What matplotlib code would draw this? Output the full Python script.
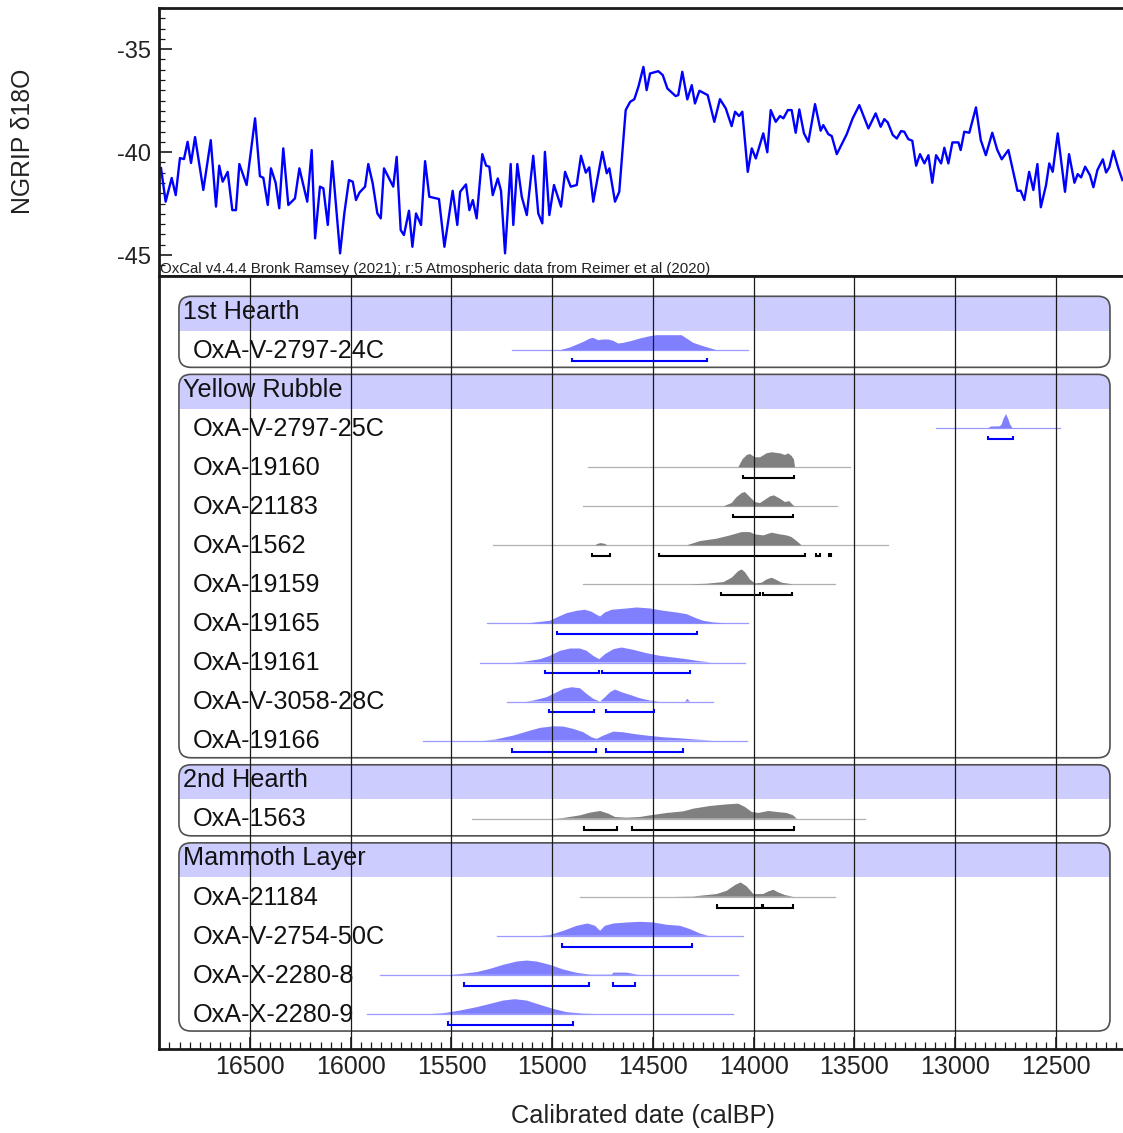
import matplotlib
matplotlib.use("Agg")
import matplotlib.pyplot as plt
from matplotlib.patches import FancyBboxPatch, Rectangle
from matplotlib.ticker import MultipleLocator
from matplotlib.transforms import blended_transform_factory
from matplotlib import font_manager

plt.rcParams['font.family'] = ['Liberation Sans', 'DejaVu Sans']

# ---------------- NGRIP d18O record ----------------
ngrip_age = [16942, 16919, 16889, 16869, 16848, 16828, 16810, 16793, 16773, 16732,
             16695, 16669, 16653, 16636, 16611, 16588, 16570, 16553, 16517, 16475,
             16451, 16434, 16412, 16396, 16373, 16355, 16335, 16310, 16277, 16255,
             16216, 16194, 16177, 16153, 16136, 16114, 16092, 16053, 16032, 16009,
             15990, 15974, 15957, 15929, 15913, 15891, 15868, 15851,
             15835, 15789, 15772, 15752, 15736, 15711, 15694, 15676, 15651, 15631,
             15610, 15562, 15535, 15494, 15471, 15457, 15428, 15411, 15394, 15375,
             15347, 15328, 15312, 15295, 15270, 15254, 15234, 15206, 15193, 15173,
             15151, 15126, 15094, 15069, 15049, 15036, 15014, 14991, 14956, 14936,
             14908, 14878, 14857, 14833, 14816, 14796, 14751, 14729, 14716, 14688,
             14667, 14635, 14613, 14592, 14572, 14547, 14531, 14514, 14473, 14451,
             14428, 14387, 14374, 14354, 14329, 14307, 14291, 14269, 14228, 14195,
             14167, 14138, 14109, 14092, 14072, 14056,
             14029, 14009, 13989, 13952, 13932, 13915, 13890, 13869, 13852, 13830,
             13811, 13791, 13773, 13750, 13728, 13695, 13667, 13654, 13629, 13612,
             13587, 13538, 13508, 13475, 13430, 13394, 13369, 13351, 13334, 13309,
             13289, 13268, 13252, 13232, 13212, 13193, 13174, 13152, 13132, 13113,
             13094, 13069, 13053, 13033, 13013, 12983, 12972, 12954, 12929, 12896,
             12872, 12847, 12815, 12790, 12768, 12735, 12690, 12674, 12656, 12632,
             12611, 12591, 12574, 12548, 12532, 12515, 12490, 12454, 12434, 12407,
             12391, 12374, 12354, 12330, 12313, 12293, 12266, 12250, 12234, 12214,
             12189, 12169]
ngrip_d18o = [-40.78, -42.41, -41.26, -42.09, -40.29, -40.34, -39.5, -40.53, -39.27, -41.84,
              -39.42, -42.65, -40.66, -41.44, -40.96, -42.82, -42.82, -40.58, -41.6, -38.36,
              -41.17, -41.25, -42.57, -40.79, -41.49, -42.73, -39.82, -42.57, -42.25, -40.79,
              -42.41, -39.9, -44.19, -41.68, -41.76, -43.54, -40.44, -44.92, -42.98, -41.36,
              -41.44, -42.33, -41.97, -41.68, -40.58, -41.52, -42.98, -43.22,
              -40.79, -41.68, -40.23, -43.79, -44.03, -42.85, -44.6, -42.98, -43.54, -40.44,
              -42.17, -42.28, -44.6, -41.88, -43.54, -41.93, -41.57, -42.82, -42.33, -43.22,
              -40.1, -40.66, -40.71, -42.09, -41.28, -41.88, -44.92, -40.58, -43.54, -40.58,
              -42.17, -43.06, -40.18, -42.98, -43.46, -39.99, -43.06, -41.6, -42.65, -40.96,
              -41.68, -41.6, -40.18, -41.0, -40.74, -42.41, -39.99, -41.03, -40.79, -42.41,
              -41.93, -37.96, -37.56, -37.43, -36.83, -35.86, -36.99, -36.18, -36.07, -36.26,
              -36.91, -37.28, -37.23, -36.1, -37.44, -36.75, -37.64, -37.02, -37.23, -38.53,
              -37.43, -37.88, -38.74, -38.04, -38.25, -38.04,
              -40.96, -39.82, -40.31, -39.09, -40.01, -37.96, -38.53, -38.25, -38.36, -37.96,
              -37.96, -39.06, -37.93, -39.09, -39.5, -37.67, -38.96, -38.69, -39.13, -39.22,
              -40.1, -39.14, -38.36, -37.72, -38.85, -38.12, -38.77, -38.4, -38.56, -39.17,
              -39.34, -38.98, -39.01, -39.37, -39.45, -40.66, -40.1, -40.55, -40.15, -41.49,
              -40.15, -40.55, -39.79, -40.55, -39.53, -39.53, -39.9, -39.01, -39.06, -37.83,
              -39.42, -40.15, -39.06, -39.9, -40.35, -39.9, -41.88, -41.88, -42.33, -40.96,
              -41.84, -40.58, -42.68, -41.6, -40.55, -40.96, -39.09, -41.93, -40.1, -41.49,
              -41.07, -41.23, -40.71, -41.12, -41.71, -40.87, -40.35, -40.99, -40.74, -39.94,
              -40.79, -41.36]

# ---------------- Groups / samples ----------------
groups = ["1st Hearth", "Yellow Rubble", "2nd Hearth", "Mammoth Layer"]
group_samples = [
    ["OxA-V-2797-24C"],
    ["OxA-V-2797-25C", "OxA-19160", "OxA-21183", "OxA-1562", "OxA-19159",
     "OxA-19165", "OxA-19161", "OxA-V-3058-28C", "OxA-19166"],
    ["OxA-1563"],
    ["OxA-21184", "OxA-V-2754-50C", "OxA-X-2280-8", "OxA-X-2280-9"],
]
grey_samples = ["OxA-19160", "OxA-21183", "OxA-1562", "OxA-19159", "OxA-1563", "OxA-21184"]

# ---------------- Probability distributions (calBP, relative probability) ----------------
s24c_yr = [14961, 14911, 14845, 14812, 14796, 14771, 14746, 14721, 14696, 14672, 14647, 14605,
           14564, 14514, 14481, 14357, 14332, 14299, 14250, 14183]
s24c_p = [0, 2.7, 8.3, 11.7, 12.3, 10, 10.7, 10.7, 9.3, 6.7, 7.3, 9.3, 11.7, 14, 15, 15, 11.7, 7.3, 4, 0]
s24c_span = [15201, 14026]
s24c_hpd = [(14903, 14230)]

s25c_yr = [12835, 12823, 12777, 12768, 12760, 12747, 12735, 12727, 12714]
s25c_p = [0, 1.7, 2, 4, 9, 14.3, 9, 4, 0]
s25c_span = [13094, 12479]
s25c_hpd = [(12835, 12710)]

s19160_yr = [14076, 14055, 14034, 14018, 13993, 13968, 13935, 13910, 13869, 13844, 13828, 13811, 13800, 13794]
s19160_p = [0, 8, 12.3, 13.3, 10, 10, 14, 15, 14, 12.3, 14, 11.3, 8, 0]
s19160_span = [14820, 13521]
s19160_hpd = [(14054, 13798)]

s21183_yr = [14150, 14109, 14084, 14059, 14043, 14018, 13993, 13968, 13943, 13918, 13899, 13869,
             13844, 13823, 13803, 13794]
s21183_p = [0, 3.3, 9.3, 13.3, 14.3, 9.3, 4.3, 3.3, 6.7, 10, 11, 7.7, 4.3, 5.3, 1, 0]
s21183_span = [14845, 13587]
s21183_hpd = [(14101, 13806)]

s1562_yr = [14787, 14774, 14759, 14738, 14726, 14332, 14266, 14183, 14117, 14059, 14018, 13993,
            13952, 13910, 13869, 13836, 13811, 13786, 13761]
s1562_p = [0, 1.5, 2.3, 1.5, 0, 0, 4.3, 6.7, 10, 13.3, 13.3, 11, 10, 12.7, 11, 10, 8.3, 4.3, 0]
s1562_span = [15294, 13332]
s1562_hpd = [(14804, 14713), (14468, 13745), (13688, 13670), (13626, 13617)]

s19159_yr = [14324, 14233, 14150, 14109, 14076, 14059, 14043, 14018, 13993, 13960, 13935, 13910,
             13885, 13860, 13836, 13803]
s19159_p = [0, 0.7, 2.3, 6.7, 13.3, 15, 12.3, 5, 1, 1.7, 5, 6.7, 4.3, 1.7, 1, 0]
s19159_span = [14845, 13596]
s19159_hpd = [(14162, 13968), (13952, 13808)]

s19165_yr = [15126, 15011, 14977, 14928, 14878, 14837, 14804, 14779, 14762, 14738, 14704, 14630,
             14580, 14514, 14448, 14382, 14332, 14282, 14250, 14200, 14133]
s19165_p = [0, 2.7, 6, 10.3, 12.7, 13.7, 11.7, 8.7, 7, 11, 13.7, 15, 16, 15, 12.7, 11, 9.3, 5, 2.7, 1, 0]
s19165_span = [15322, 14026]
s19165_hpd = [(14975, 14282)]

s19161_yr = [15200, 15143, 15060, 15011, 14961, 14911, 14862, 14829, 14796, 14766, 14738, 14696,
             14655, 14597, 14531, 14465, 14399, 14332, 14282, 14208]
s19161_p = [0, 0.7, 3.3, 6.7, 11.7, 14, 14, 11.7, 6.7, 3.3, 8.3, 13.3, 15, 12.7, 9.3, 6.7, 5, 3.3, 1.7, 0]
s19161_span = [15358, 14043]
s19161_hpd = [(15036, 14766), (14754, 14316)]

s28c_yr = [15130, 15094, 15028, 14977, 14944, 14903, 14862, 14829, 14796, 14762, 14738, 14713,
           14688, 14655, 14614, 14564, 14514, 14465, 14340, 14329, 14316]
s28c_p = [0, 1, 4.3, 9.3, 12.7, 14.3, 13.3, 7.7, 2.7, 0, 4.3, 9.3, 12, 9.3, 6.7, 3.3, 1, 0, 0, 2.7, 0]
s28c_span = [15226, 14200]
s28c_hpd = [(15016, 14792), (14734, 14493)]

s19166_yr = [15340, 15284, 15193, 15126, 15060, 14994, 14944, 14895, 14845, 14804, 14779, 14746,
             14696, 14647, 14597, 14531, 14448, 14365, 14282, 14200]
s19166_p = [0, 1, 5, 9, 12.7, 14.3, 14, 11.7, 8.3, 3.3, 1.7, 5, 9, 8.3, 6.7, 5, 3.3, 2.3, 1, 0]
s19166_span = [15640, 14034]
s19166_hpd = [(15201, 14782), (14734, 14349)]

s1563_yr = [14990, 14944, 14862, 14812, 14762, 14721, 14688, 14630, 14564, 14514, 14431, 14349,
            14299, 14216, 14133, 14076, 14043, 14009, 13976, 13927, 13885, 13836, 13803, 13786]
s1563_p = [0, 0.7, 3.3, 6, 7.7, 5, 1.7, 1, 1.7, 3.3, 5.7, 7.3, 10, 12.7, 14.3, 15, 11.7, 6.7,
           5.7, 7.7, 6.7, 5.7, 3.3, 0]
s1563_span = [15398, 13447]
s1563_hpd = [(14840, 14680), (14602, 13798)]

s21184_yr = [14400, 14299, 14183, 14133, 14092, 14064, 14034, 14001, 13952, 13927, 13902, 13877, 13844, 13803]
s21184_p = [0, 0.3, 2.7, 6, 11.7, 14.3, 10.3, 2.7, 2.7, 5.3, 7, 4.3, 1.7, 0]
s21184_span = [14862, 13596]
s21184_hpd = [(14183, 13960), (13955, 13803)]

s50c_yr = [15060, 15011, 14944, 14878, 14825, 14787, 14762, 14738, 14696, 14630, 14564, 14498,
           14431, 14365, 14316, 14266, 14225]
s50c_p = [0, 0.7, 5, 10, 12.3, 10, 5, 10, 12.3, 13.3, 14, 13.3, 11, 10, 6.7, 2.3, 0]
s50c_span = [15276, 14051]
s50c_hpd = [(14953, 14307)]

s2280_8_yr = [15500, 15449, 15375, 15308, 15243, 15176, 15126, 15077, 15011, 14944, 14878, 14812,
              14704, 14696, 14630, 14580, 14560]
s2280_8_p = [0, 1, 2.7, 6, 10, 13.3, 14.3, 13.3, 10, 5.3, 2, 0.3, 0.3, 2.2, 2.2, 0.3, 0]
s2280_8_span = [15855, 14077]
s2280_8_hpd = [(15438, 14818), (14699, 14589)]

s2280_9_yr = [15600, 15540, 15458, 15375, 15308, 15243, 15185, 15126, 15060, 14994, 14928, 14845, 14780]
s2280_9_p = [0, 0.7, 3.3, 6.7, 10, 13.3, 14.7, 13.3, 9, 5, 1.7, 0.3, 0]
s2280_9_span = [15921, 14101]
s2280_9_hpd = [(15519, 14898)]

dist_table = {
    "OxA-V-2797-24C": (s24c_yr, s24c_p, s24c_span, s24c_hpd),
    "OxA-V-2797-25C": (s25c_yr, s25c_p, s25c_span, s25c_hpd),
    "OxA-19160": (s19160_yr, s19160_p, s19160_span, s19160_hpd),
    "OxA-21183": (s21183_yr, s21183_p, s21183_span, s21183_hpd),
    "OxA-1562": (s1562_yr, s1562_p, s1562_span, s1562_hpd),
    "OxA-19159": (s19159_yr, s19159_p, s19159_span, s19159_hpd),
    "OxA-19165": (s19165_yr, s19165_p, s19165_span, s19165_hpd),
    "OxA-19161": (s19161_yr, s19161_p, s19161_span, s19161_hpd),
    "OxA-V-3058-28C": (s28c_yr, s28c_p, s28c_span, s28c_hpd),
    "OxA-19166": (s19166_yr, s19166_p, s19166_span, s19166_hpd),
    "OxA-1563": (s1563_yr, s1563_p, s1563_span, s1563_hpd),
    "OxA-21184": (s21184_yr, s21184_p, s21184_span, s21184_hpd),
    "OxA-V-2754-50C": (s50c_yr, s50c_p, s50c_span, s50c_hpd),
    "OxA-X-2280-8": (s2280_8_yr, s2280_8_p, s2280_8_span, s2280_8_hpd),
    "OxA-X-2280-9": (s2280_9_yr, s2280_9_p, s2280_9_span, s2280_9_hpd),
}

x_ticks = [16500, 16000, 15500, 15000, 14500, 14000, 13500, 13000, 12500]
y_ticks_top = [-35, -40, -45]

# ---------------- Figure layout ----------------
W, H = 1123, 1133
fig = plt.figure(figsize=(W / 100, H / 100), dpi=100)


def fx(px):
    return px / W


def fy(py):
    return 1 - py / H


XLIM = (16952, 12166)
ax_top = fig.add_axes([fx(159), fy(276), fx(1123) - fx(159), fy(8) - fy(276)])
ax = fig.add_axes([fx(159), fy(1049), fx(1123) - fx(159), fy(276) - fy(1049)])

spine_col = '#1a1a1a'
for a in (ax_top, ax):
    a.spines['right'].set_visible(False)
    for s in ('left', 'top', 'bottom'):
        a.spines[s].set_linewidth(2.0)
        a.spines[s].set_color(spine_col)

# top panel
ax_top.plot(ngrip_age, ngrip_d18o, color='#0000ff', lw=1.7)
ax_top.set_xlim(XLIM)
ax_top.set_ylim(-46.02, -33.0)
ax_top.set_xticks([])
ax_top.set_yticks(y_ticks_top)
ax_top.set_yticklabels([str(v) for v in y_ticks_top])
ax_top.yaxis.set_minor_locator(MultipleLocator(0.5))
ax_top.tick_params(axis='y', which='major', direction='in', length=9, width=1.2,
                   labelsize=17, pad=6, color=spine_col, labelcolor='#222222')
ax_top.tick_params(axis='y', which='minor', direction='in', length=4.5, width=0.9, color=spine_col)
ax_top.text(0.001, 0.011,
            "OxCal v4.4.4 Bronk Ramsey (2021); r:5 Atmospheric data from Reimer et al (2020)",
            transform=ax_top.transAxes, fontsize=10.85, va='baseline', ha='left', color='#222222')
fig.text(fx(23), fy(141), "NGRIP \u03b418O", rotation=90, ha='center', va='center',
         fontsize=17.8, color='#222222')

# main panel
ax.set_xlim(XLIM)
ax.set_ylim(18.9, -0.9)
ax.set_yticks([])
ax.set_xticks(x_ticks)
ax.xaxis.set_minor_locator(MultipleLocator(50))

avail = {f.name for f in font_manager.fontManager.ttflist}
if 'Liberation Sans Narrow' in avail:
    tick_fp = dict(family='Liberation Sans Narrow', size=21.5)
else:
    tick_fp = dict(family='Liberation Sans', size=18)
ax.set_xticklabels([str(t) for t in x_ticks], fontdict=tick_fp, color='#222222')
ax.tick_params(axis='x', which='major', direction='in', length=9, width=1.2, pad=4, color=spine_col)
ax.tick_params(axis='x', which='minor', direction='in', length=5, width=0.9, color=spine_col)

fig.text(fx(643), fy(1116), "Calibrated date (calBP)", ha='center', va='center',
         fontsize=18.3, color='#222222')

for t in x_ticks:
    ax.axvline(t, color='#1a1a1a', lw=0.9, zorder=8)

tr = blended_transform_factory(ax.transAxes, ax.transData)
x_data_left = XLIM[0] + (XLIM[1] - XLIM[0]) * 0.0207
x_data_right = XLIM[0] + (XLIM[1] - XLIM[0]) * 0.9865
px_per_year = 964 / (XLIM[0] - XLIM[1])
px_per_row = 773 / (18.9 + 0.9)
aspect = (1 / px_per_row) / (1 / px_per_year)
round_px = 12
prob_scale = 1 / px_per_row  # relative probability units map to pixel heights

BLUE_FILL, BLUE_LINE, BLUE_BR = '#8080ff', '#9a9aff', '#0000ff'
GREY_FILL, GREY_LINE, GREY_BR = '#808080', '#b0b0b0', '#000000'
LABEL_FS = 18.2

row = 0
for g, samples in zip(groups, group_samples):
    header = row
    last = row + len(samples)
    top = header - 0.38
    bot = last + 0.44
    box = FancyBboxPatch((x_data_right, top), x_data_left - x_data_right, bot - top,
                         boxstyle=f"round,pad=0,rounding_size={round_px / px_per_year}",
                         mutation_aspect=aspect, facecolor='white', edgecolor='none', zorder=1)
    ax.add_patch(box)
    band = Rectangle((x_data_right, top), x_data_left - x_data_right, header + 0.5 - top,
                     facecolor='#ccccff', edgecolor='none', zorder=2)
    ax.add_patch(band)
    band.set_clip_path(box)
    edge = FancyBboxPatch((x_data_right, top), x_data_left - x_data_right, bot - top,
                          boxstyle=f"round,pad=0,rounding_size={round_px / px_per_year}",
                          mutation_aspect=aspect, facecolor='none', edgecolor='#505050',
                          lw=1.2, zorder=3)
    ax.add_patch(edge)
    ax.text(0.0249, header + 0.02, g, transform=tr, ha='left', va='center', fontsize=LABEL_FS,
            color='#111111', zorder=6)
    for i, s in enumerate(samples):
        r = header + 1 + i
        ax.text(0.0353, r + 0.02, s, transform=tr, ha='left', va='center', fontsize=LABEL_FS,
                color='#111111', zorder=6)
        yr, p, span, hpd = dist_table[s]
        grey = s in grey_samples
        fc = GREY_FILL if grey else BLUE_FILL
        lc = GREY_LINE if grey else BLUE_LINE
        bc = GREY_BR if grey else BLUE_BR
        ax.plot(span, [r, r], color=lc, lw=0.9, zorder=4)
        ax.fill_between(yr, [r] * len(yr), [r - v * prob_scale for v in p],
                        facecolor=fc, edgecolor='none', lw=0, zorder=4)
        for a0, a1 in hpd:
            ax.plot([a0, a0, a1, a1], [r + 0.19, r + 0.28, r + 0.28, r + 0.19],
                    color=bc, lw=1.5, zorder=5, solid_joinstyle='miter', solid_capstyle='butt')
    row = last + 1

fig.savefig("out.png", dpi=100)
